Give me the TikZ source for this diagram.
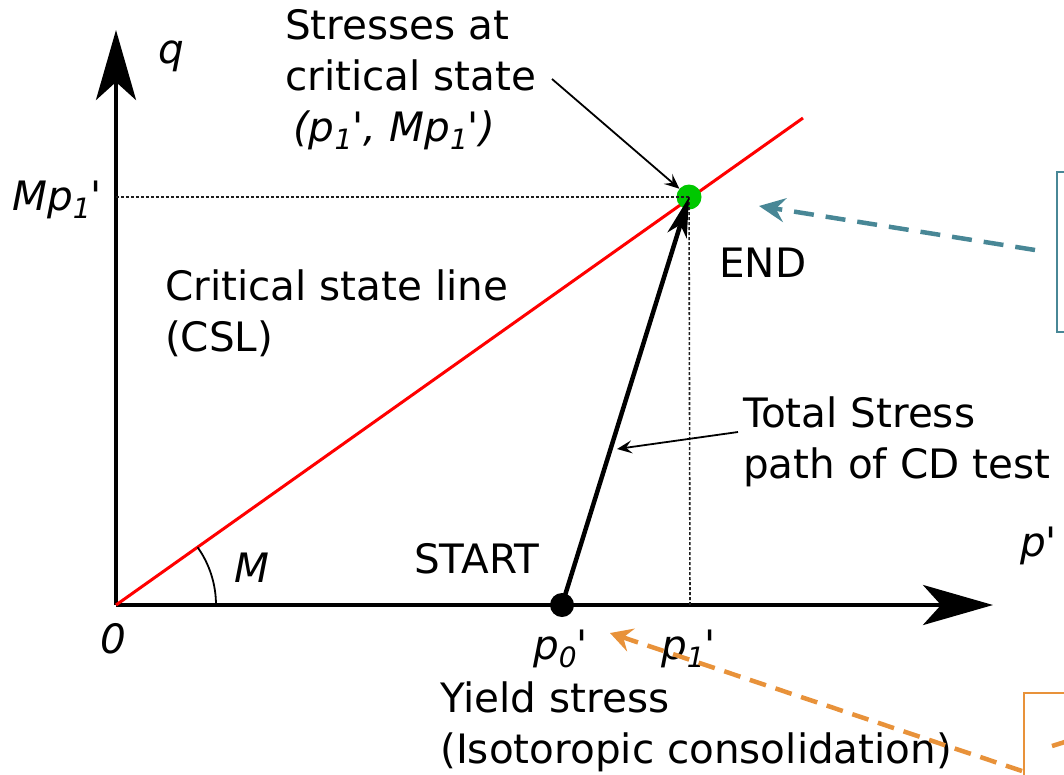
\documentclass[tikz,border=0pt]{standalone}
\usepackage{fontspec}
\newfontfamily\dv{DejaVu Sans}
\usetikzlibrary{arrows.meta}
\definecolor{cslred}{RGB}{255,0,0}
\definecolor{endgreen}{RGB}{0,200,0}
\definecolor{tealc}{RGB}{72,135,150}
\definecolor{orngc}{RGB}{232,146,58}
\definecolor{guidec}{RGB}{30,30,30}
\newcommand\sbs[1]{\raisebox{-0.22em}{\fontsize{28}{28}\selectfont #1}}
\begin{document}
\begin{tikzpicture}[x=1pt,y=-1pt,
  lbl/.style={font=\dv\fontsize{40.5}{51}\selectfont, inner sep=0pt, anchor=base west, align=left},
  axisline/.style={line width=4.5pt, -{Stealth[length=70pt,width=40pt,inset=18pt]}},
  guide/.style={line width=1.6pt, guidec, dash pattern=on 3pt off 2pt},
  thinarrow/.style={line width=1.8pt, -{Stealth[length=15pt,width=13pt,inset=6pt]}},
  patharrow/.style={line width=4.5pt, -{Stealth[length=40pt,width=20pt,inset=11pt]}},
  tealarrow/.style={tealc, line width=4.5pt, dash pattern=on 20pt off 12pt, -{Stealth[length=26pt,width=24pt,inset=9pt]}},
  orngarrow/.style={orngc, line width=4.5pt, dash pattern=on 17pt off 10pt, -{Stealth[length=22pt,width=24pt,inset=8pt]}},
  dot/.style={circle, inner sep=0pt, minimum size=#1},
  sidebox/.style={draw=#1, line width=2.2pt, inner sep=0pt, anchor=north west}
]
\useasboundingbox (0,0) rectangle (1064,774);

% key points
\coordinate (O) at (116,605);
\coordinate (xend) at (993,605);
\coordinate (yend) at (116,30);
\coordinate (cslend) at (803,118);
\coordinate (qaxis) at (116,197);
\coordinate (paxis) at (690,605);

% axes
\draw[axisline] (O) -- (xend);
\draw[axisline] (O) -- (yend);

% critical state line
\draw[cslred, line width=3pt] (O) -- (cslend);

% angle M
\draw[line width=1.8pt] (216,605) arc[start angle=0, end angle=-35.3, radius=100];

% end point
\node[dot=25pt, fill=endgreen] (end) at (689,197) {};

% guides
\draw[guide] (qaxis) -- (end.center);
\draw[guide] (end.center) -- (paxis);

% start point and stress path
\node[dot=24pt, fill=black] (start) at (562,605) {};
\draw[patharrow] (start.center) -- (end.center);

% labels
\node[lbl] (qlab) at (158,63) {\itshape q};
\node[lbl] (plab) at (1020,556) {\itshape p'};
\node[lbl] (Mp1) at (12,210) {\itshape Mp\sbs{1}'};
\node[lbl] (stress) at (285,141) {Stresses at\\critical state\\\hspace{8pt}{\itshape (p\sbs{1}', Mp\sbs{1}')}};
\node[lbl] (csl) at (165,351) {Critical state line\\(CSL)};
\node[lbl] (endlab) at (719,277) {END};
\node[lbl] (startlab) at (414,573) {START};
\node[lbl] (zero) at (100,653) {\itshape 0};
\node[lbl] (Mlab) at (234,582) {\itshape M};
\node[lbl] (p0) at (533,659) {\itshape p\sbs{0}'};
\node[lbl] (p1) at (661,659) {\itshape p\sbs{1}'};
\node[lbl] (yield) at (440,763) {Yield stress\\(Isotoropic consolidation)};
\node[lbl] (total) at (743,478) {Total Stress\\path of CD test};

% pointer arrows
\coordinate (sa) at (552,79);
\draw[thinarrow] (sa) -- (end);
\coordinate (ta) at (738,432);
\coordinate (tb) at (617,449);
\draw[thinarrow] (ta) -- (tb);

% side boxes (cut off at the right edge)
\node[sidebox=tealc, minimum width=40pt, minimum height=160pt] (tealbox) at (1056,171) {};
\node[sidebox=orngc, minimum width=60pt, minimum height=120pt] (orngbox) at (1023,692) {};

% dashed pointers
\coordinate (tealsrc) at (1035,250);
\coordinate (tealtip) at (759,206);
\draw[tealarrow] (tealsrc) -- (tealtip);
\coordinate (orsrc) at (1022,771);
\coordinate (ortip) at (610,633);
\draw[orngarrow] (orsrc) -- (ortip);
\coordinate (orin) at (1052,746);
\coordinate (orout) at (1068,741);
\draw[orngc, line width=4.5pt] (orin) -- (orout);
\end{tikzpicture}
\end{document}
